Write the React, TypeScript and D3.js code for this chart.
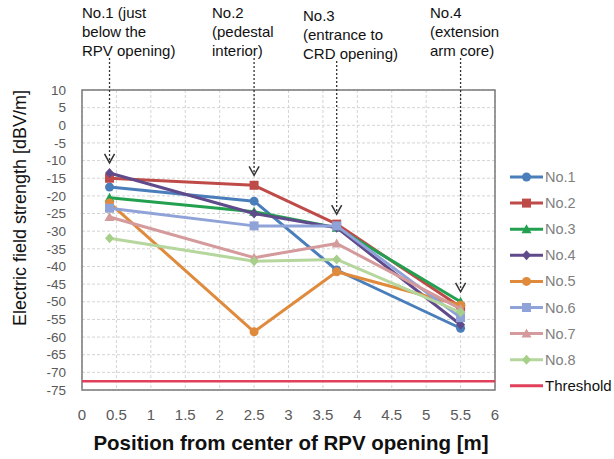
import React from "react";
import * as d3 from "d3";

const positions = [0.4, 2.5, 3.7, 5.5];
const seriesNames = ["No.1", "No.2", "No.3", "No.4", "No.5", "No.6", "No.7", "No.8"];
const no1 = [-17.5, -21.5, -41, -57.5];
const no2 = [-15, -17, -28, -51.5];
const no3 = [-20.5, -24.5, -29, -50];
const no4 = [-13.5, -25, -29, -56.5];
const no5 = [-22, -58.5, -41.5, -51];
const no6 = [-23.5, -28.5, -28.5, -54.5];
const no7 = [-26, -37.5, -33.5, -52];
const no8 = [-32, -38.5, -38, -53];
const thresholdValue = -72.5;
const xTicks = [0, 0.5, 1, 1.5, 2, 2.5, 3, 3.5, 4, 4.5, 5, 5.5, 6];
const yTicks = [10, 5, 0, -5, -10, -15, -20, -25, -30, -35, -40, -45, -50, -55, -60, -65, -70, -75];
const annotations = [
  ["No.1 (just", "below the", "RPV opening)"],
  ["No.2", "(pedestal", "interior)"],
  ["No.3", "(entrance to", "CRD opening)"],
  ["No.4", "(extension", "arm core)"],
];

const seriesValues = [no1, no2, no3, no4, no5, no6, no7, no8];
const colors = ["#4a7ebb", "#be4b48", "#22a04f", "#5f4a8b", "#e08a3c", "#8fa3d8", "#d49a9c", "#b5d69c"];
const markerColors = ["#4a7ebb", "#be4b48", "#22a04f", "#5f4a8b", "#e08a3c", "#8fa3d8", "#d49a9c", "#a6cf8a"];
const shapes = ["circle", "square", "triangle", "diamond", "circle", "square", "triangle", "diamond"];
const thresholdColor = "#e0405a";

const FONT = "'Liberation Sans', Arial, sans-serif";

function Marker({ shape, x, y, color }: { shape: string; x: number; y: number; color: string }) {
  if (shape === "circle") return <circle cx={x} cy={y} r={4.5} fill={color} />;
  if (shape === "square") return <rect x={x - 4.5} y={y - 4.5} width={9} height={9} fill={color} />;
  if (shape === "triangle")
    return <path d={`M${x},${y - 5} L${x + 5},${y + 4} L${x - 5},${y + 4} Z`} fill={color} />;
  return <path d={`M${x},${y - 5} L${x + 4.5},${y} L${x},${y + 5} L${x - 4.5},${y} Z`} fill={color} />;
}

export default function App() {
  const left = 82, right = 495, top = 90, bottom = 390;
  const x = d3.scaleLinear().domain([0, 6]).range([left, right]);
  const y = d3.scaleLinear().domain([-75, 10]).range([bottom, top]);
  const line = d3.line<number>().x((_, i) => x(positions[i])).y((v) => y(v));

  const annX = [82, 212, 303, 430];
  const annDy = [0, 0, 3, 0];

  return (
    <svg width={614} height={459} style={{ position: "absolute", left: 0, top: 0, background: "#fff" }} fontFamily={FONT}>
      {/* grid */}
      {xTicks.map((t) => (
        <line key={"gx" + t} x1={x(t)} x2={x(t)} y1={top} y2={bottom} stroke="#d4d4d4" strokeWidth={1} strokeDasharray="3,2" />
      ))}
      {yTicks.map((t) => (
        <line key={"gy" + t} x1={left} x2={right} y1={y(t)} y2={y(t)} stroke="#d4d4d4" strokeWidth={1} strokeDasharray="3,2" />
      ))}
      <rect x={left} y={top} width={right - left} height={bottom - top} fill="none" stroke="#7a7a7a" strokeWidth={1.5} />

      {/* tick labels */}
      {yTicks.map((t) => (
        <text key={"ty" + t} x={66} y={y(t)} dy="0.35em" textAnchor="end" fontSize={13.5} fill="#595959">
          {t}
        </text>
      ))}
      {xTicks.map((t) => (
        <text key={"tx" + t} x={x(t)} y={415} dy="0.35em" textAnchor="middle" fontSize={15} fill="#595959">
          {t}
        </text>
      ))}

      {/* threshold */}
      <line x1={left} x2={right} y1={y(thresholdValue)} y2={y(thresholdValue)} stroke={thresholdColor} strokeWidth={2.5} />

      {/* series */}
      {seriesValues.map((vals, si) => (
        <g key={"s" + si}>
          <path d={line(vals) || ""} fill="none" stroke={colors[si]} strokeWidth={3} strokeLinejoin="round" />
          {vals.map((v, i) => (
            <Marker key={i} shape={shapes[si]} x={x(positions[i])} y={y(v)} color={markerColors[si]} />
          ))}
        </g>
      ))}

      {/* annotation arrows */}
      {positions.map((p, i) => {
        const maxV = d3.max(seriesValues, (s) => s[i]) as number;
        const tipY = y(maxV) - 10;
        const px = x(p);
        const y0 = 58 + annDy[i];
        return (
          <g key={"a" + i}>
            <line x1={px} x2={px} y1={y0} y2={tipY} stroke="#333" strokeWidth={1.3} strokeDasharray="2,2" />
            <path d={`M${px - 5},${tipY - 9} L${px},${tipY} L${px + 5},${tipY - 9}`} fill="none" stroke="#333" strokeWidth={1.5} />
          </g>
        );
      })}
      {annotations.map((lines, i) => (
        <text key={"an" + i} x={annX[i]} y={18 + annDy[i]} fontSize={15} fill="#111">
          {lines.map((l, j) => (
            <tspan key={j} x={annX[i]} dy={j === 0 ? 0 : 19}>
              {l}
            </tspan>
          ))}
        </text>
      ))}

      {/* legend */}
      {seriesNames.map((n, i) => {
        const ly = 177 + i * 26.1;
        return (
          <g key={"l" + i}>
            <line x1={510} x2={543} y1={ly} y2={ly} stroke={colors[i]} strokeWidth={3} />
            <Marker shape={shapes[i]} x={526.5} y={ly} color={markerColors[i]} />
            <text x={545} y={ly} dy="0.35em" fontSize={14.5} fill="#7f7f7f">
              {n}
            </text>
          </g>
        );
      })}
      <g>
        <line x1={510} x2={543} y1={177 + 8 * 26.1} y2={177 + 8 * 26.1} stroke={thresholdColor} strokeWidth={3} />
        <text x={545} y={177 + 8 * 26.1} dy="0.35em" fontSize={15} fill="#111">
          Threshold
        </text>
      </g>

      {/* axis titles */}
      <text transform={`translate(26,208) rotate(-90)`} textAnchor="middle" fontSize={18} fill="#111">
        Electric field strength [dBV/m]
      </text>
      <text x={291} y={450} textAnchor="middle" fontSize={20.5} fontWeight="bold" fill="#111">
        Position from center of RPV opening [m]
      </text>
    </svg>
  );
}
